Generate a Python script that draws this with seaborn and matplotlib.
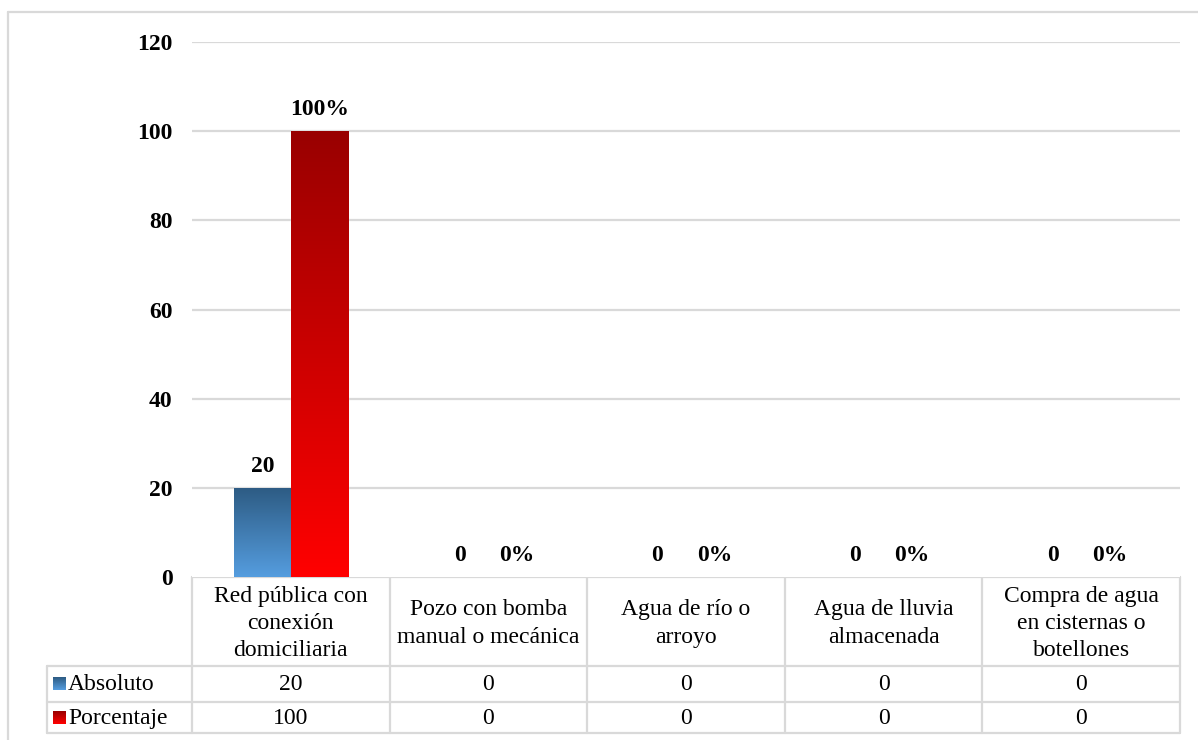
import matplotlib
matplotlib.use("Agg")
import matplotlib.pyplot as plt
import matplotlib.colors as mcolors
import numpy as np
import pandas as pd
import seaborn as sns

# datos del grafico
categorias = ["Red pública con\nconexión\ndomiciliaria",
              "Pozo con bomba\nmanual o mecánica",
              "Agua de río o\narroyo",
              "Agua de lluvia\nalmacenada",
              "Compra de agua\nen cisternas o\nbotellones"]
absoluto = [20, 0, 0, 0, 0]
porcentaje = [100, 0, 0, 0, 0]
series = ["Absoluto", "Porcentaje"]
y_ticks = [0, 20, 40, 60, 80, 100, 120]

# degradados (arriba -> abajo)
grad_azul = ["#2d5b83", "#559ddf"]
grad_rojo = ["#990000", "#ff0000"]

sns.set_theme(style="white")
plt.rcParams["font.family"] = ["Liberation Serif", "DejaVu Serif"]
plt.rcParams["text.color"] = "black"
plt.rcParams["ytick.color"] = "black"

df = pd.DataFrame({
    "Categoria": categorias * 2,
    "Serie": ["Absoluto"] * len(categorias) + ["Porcentaje"] * len(categorias),
    "Valor": absoluto + porcentaje,
})

W, H = 1198, 740
fig = plt.figure(figsize=(W / 100, H / 100), dpi=100)

# area del grafico en pixeles
x0, x1 = 192, 1180
ytop, ybot = 42, 577
ax = fig.add_axes([x0 / W, 1 - ybot / H, (x1 - x0) / W, (ybot - ytop) / H])

sns.barplot(data=df, x="Categoria", y="Valor", hue="Serie", ax=ax,
            palette=[grad_azul[1], grad_rojo[1]], width=0.577,
            saturation=1, legend=False, errorbar=None)

ax.set_ylim(0, 120)
ax.set_xlim(-0.5, len(categorias) - 0.5)
ax.set_yticks(y_ticks)
ax.set_yticklabels([str(t) for t in y_ticks], fontsize=17, fontweight="bold",
                   color="black")
ax.tick_params(axis="y", length=0, pad=14)
ax.set_xticks([])
ax.set_xlabel("")
ax.set_ylabel("")
for s in ax.spines.values():
    s.set_visible(False)
for t in y_ticks[1:]:
    ax.axhline(t, color="#d9d9d9", lw=1.6, zorder=0)


def gradiente(c_top, c_bot):
    return mcolors.LinearSegmentedColormap.from_list("g", [c_top, c_bot])


# degradado en cada barra
for cont, grad in zip(ax.containers, [grad_azul, grad_rojo]):
    cm = gradiente(*grad)
    for p in cont:
        h = p.get_height()
        if h <= 0:
            continue
        x = p.get_x()
        w = p.get_width()
        img = ax.imshow(np.linspace(0, 1, 256).reshape(-1, 1), cmap=cm, aspect="auto",
                        extent=[x, x + w, 0, h], origin="upper", zorder=2)
        img.set_clip_path(p)
        p.set_facecolor("none")
ax.set_ylim(0, 120)
ax.set_xlim(-0.5, len(categorias) - 0.5)

# etiquetas de valores
ax.bar_label(ax.containers[0], labels=[str(v) for v in absoluto], padding=8,
             fontsize=17, fontweight="bold", color="black")
ax.bar_label(ax.containers[1], labels=[f"{v}%" for v in porcentaje], padding=8,
             fontsize=17, fontweight="bold", color="black")

# tabla de datos debajo (coordenadas en pixeles de la figura)
ov = fig.add_axes([0, 0, 1, 1], zorder=-1)
ov.set_xlim(0, W)
ov.set_ylim(H, 0)
ov.axis("off")
gris = "#d9d9d9"
lw = 1.6
xl = 47
rows = [ybot, 666, 702, 733]
cw = (x1 - x0) / len(categorias)
bordes = [x0 + i * cw for i in range(len(categorias) + 1)]

ov.plot([x0, x1], [rows[0], rows[0]], color=gris, lw=lw)
for r in rows[1:]:
    ov.plot([xl, x1], [r, r], color=gris, lw=lw)
for b in bordes:
    ov.plot([b, b], [rows[0], rows[-1]], color=gris, lw=lw)
ov.plot([xl, xl], [rows[1], rows[-1]], color=gris, lw=lw)

# borde exterior
ov.plot([8, 8], [12, H], color=gris, lw=1.6)
ov.plot([8, W], [12, 12], color=gris, lw=1.6)

for i, cat in enumerate(categorias):
    cx = (bordes[i] + bordes[i + 1]) / 2
    ov.text(cx, (rows[0] + rows[1]) / 2 + 2, cat, ha="center", va="center",
            fontsize=17, linespacing=1.38)
    ov.text(cx, (rows[1] + rows[2]) / 2 + 1, str(absoluto[i]), ha="center",
            va="center", fontsize=17)
    ov.text(cx, (rows[2] + rows[3]) / 2 + 1, str(porcentaje[i]), ha="center",
            va="center", fontsize=17)

# leyenda dentro de la tabla
for j, (nombre, grad) in enumerate(zip(series, [grad_azul, grad_rojo])):
    yc = (rows[1 + j] + rows[2 + j]) / 2
    ov.imshow(np.linspace(0, 1, 64).reshape(-1, 1), cmap=gradiente(*grad),
              aspect="auto", extent=[53, 66, yc + 6.5, yc - 6.5], origin="upper",
              zorder=3)
    ov.text(68, yc + 1, nombre, ha="left", va="center", fontsize=17)
ov.set_xlim(0, W)
ov.set_ylim(H, 0)

fig.savefig("out.png", dpi=100)
